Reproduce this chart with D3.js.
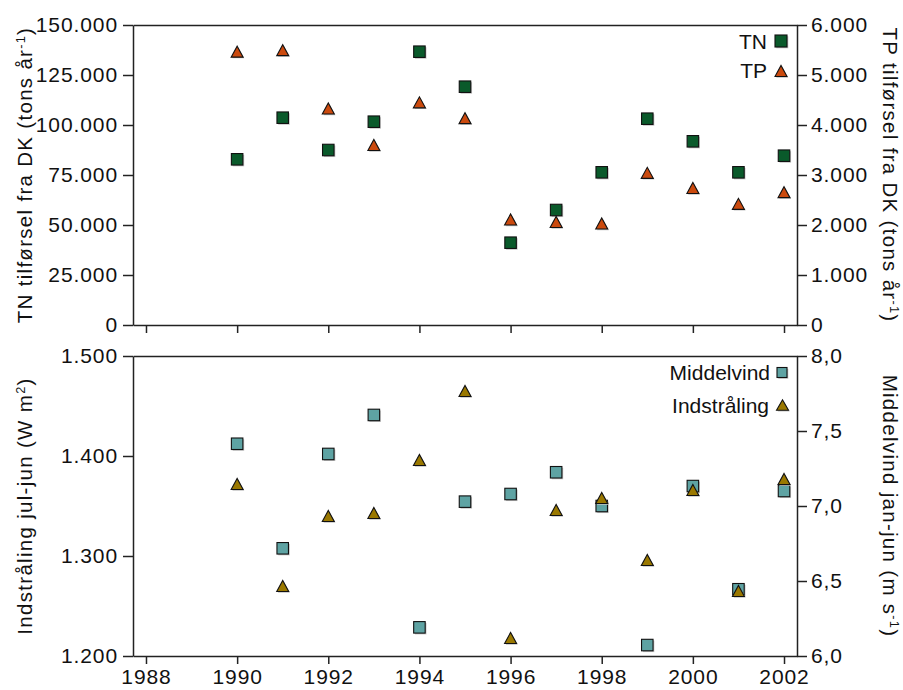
<!DOCTYPE html>
<html><head><meta charset="utf-8">
<script src="https://cdn.jsdelivr.net/npm/d3@7"></script>
<style>
body{margin:0;background:#fff}
svg{display:block}
text{font-family:"Liberation Sans",Arial,Helvetica,sans-serif;fill:#111}
</style>
</head><body><svg id="c" width="903" height="690"></svg>
<script>
// ---- data ----
const years       = [1990,1991,1992,1993,1994,1995,1996,1997,1998,1999,2000,2001,2002];
const tn          = [82850,103650,87500,101650,136650,119150,41150,57500,76350,103150,91850,76350,84650];
const tp          = [5467,5497,4330,3600,4453,4137,2110,2060,2030,3043,2740,2423,2657];
const middelvind  = [7.415,6.718,7.347,7.607,6.191,7.029,7.08,7.225,7.0,6.073,7.133,6.445,7.1];
const indstraling = [1372,1270,1340,1343,1396,1465,1218,1346,1358,1296,1366,1265,1377];
const xTicks      = [1988,1990,1992,1994,1996,1998,2000,2002];
const tnTicks     = [0,25000,50000,75000,100000,125000,150000];
const tpTicks     = [0,1000,2000,3000,4000,5000,6000];
const indTicks    = [1200,1300,1400,1500];
const windTicks   = [6,6.5,7,7.5,8];
const xDomain     = [1987.715, 2002.285];

// ---- style ----
const C = {tn:"#0a5a2b", tp:"#cb4a0e", wind:"#5ea3a3", ind:"#9a7800", axis:"#222", shadow:"#c4c4c4"};
const FONT_TICK = 21, LS_TICK = 0.9, FONT_TITLE = 20.5, LS_TITLE = 1.3, FONT_LEG = 21;

const loc = d3.formatLocale({decimal:",", thousands:".", grouping:[3], currency:["",""]});
const fInt = loc.format(",.0f"), fDec = loc.format(",.1f");

const svg = d3.select("#c");
const x = d3.scaleLinear().domain(xDomain).range([133, 797]);

const panels = [
  {top:25, bottom:325, yl:d3.scaleLinear().domain([0,150000]), yr:d3.scaleLinear().domain([0,6000]),
   lt:tnTicks, rt:tpTicks, lf:fInt, rf:fInt, labels:false},
  {top:356, bottom:656, yl:d3.scaleLinear().domain([1200,1500]), yr:d3.scaleLinear().domain([6,8]),
   lt:indTicks, rt:windTicks, lf:fInt, rf:fDec, labels:true}
];

function styleAxis(g){
  g.attr("font-size", null).attr("font-family", null).attr("color", C.axis);
  g.selectAll("path,line").attr("stroke-width", 1.5);
  g.selectAll("text").style("font-size", FONT_TICK+"px").style("letter-spacing", LS_TICK+"px").attr("fill","#111");
}

panels.forEach(p => {
  p.yl.range([p.bottom, p.top]); p.yr.range([p.bottom, p.top]);
  svg.append("g").attr("transform",`translate(${x.range()[0]},0)`)
    .call(d3.axisLeft(p.yl).tickValues(p.lt).tickFormat(p.lf).tickSize(10).tickSizeOuter(0).tickPadding(5)).call(styleAxis);
  svg.append("g").attr("transform",`translate(${x.range()[1]},0)`)
    .call(d3.axisRight(p.yr).tickValues(p.rt).tickFormat(p.rf).tickSize(10).tickSizeOuter(0).tickPadding(4)).call(styleAxis);
  svg.append("g").attr("transform",`translate(0,${p.bottom})`)
    .call(d3.axisBottom(x).tickValues(xTicks).tickFormat(p.labels ? d3.format("d") : () => "").tickSize(8).tickSizeOuter(0).tickPadding(5)).call(styleAxis);
  svg.append("g").attr("transform",`translate(0,${p.top})`)
    .call(d3.axisTop(x).tickValues([]).tickSizeOuter(0)).call(styleAxis);
});

// ---- markers ----
const SQ = 11.5, TW = 12, TH = 11;
function tri(cx, cy, w=TW, h=TH){ return `M${cx-w/2},${cy+h/2}L${cx},${cy-h/2}L${cx+w/2},${cy+h/2}Z`; }
function squares(g, xs, ys, fill, s=SQ){
  xs.forEach((xv,i)=>{
    g.append("rect").attr("x",xv-s/2+1.3).attr("y",ys[i]-s/2+1.3).attr("width",s).attr("height",s).attr("fill",C.shadow);
    g.append("rect").attr("x",xv-s/2).attr("y",ys[i]-s/2).attr("width",s).attr("height",s)
      .attr("fill",fill).attr("stroke","#111").attr("stroke-width",1.1);
  });
}
function triangles(g, xs, ys, fill, w=TW, h=TH){
  xs.forEach((xv,i)=>{
    g.append("path").attr("d",tri(xv+1.2,ys[i]+1.2,w,h)).attr("fill",C.shadow);
    g.append("path").attr("d",tri(xv,ys[i],w,h)).attr("fill",fill).attr("stroke","#111").attr("stroke-width",1.1).attr("stroke-linejoin","miter");
  });
}
const xs = years.map(x);
const gm = svg.append("g");
squares(gm, xs, tn.map(panels[0].yl), C.tn);
triangles(gm, xs, tp.map(panels[0].yr), C.tp);
squares(gm, xs, middelvind.map(panels[1].yr), C.wind);
triangles(gm, xs, indstraling.map(panels[1].yl), C.ind);

// ---- legends ----
const gl = svg.append("g");
function legText(t, xe, yb){ gl.append("text").attr("x",xe).attr("y",yb).attr("text-anchor","end").style("font-size",FONT_LEG+"px").text(t); }
legText("TN", 767, 49);   squares(gl, [781], [41], C.tn, 12);
legText("TP", 767, 78);   triangles(gl, [781], [71], C.tp, 12, 11);
legText("Middelvind", 770, 380);  squares(gl, [782], [372.5], C.wind, 10);
legText("Indstråling", 769, 413); triangles(gl, [782.5], [405], C.ind, 12, 10.5);

// ---- axis titles ----
function title(parts, tx, ty, rot){
  const t = svg.append("text").attr("transform",`translate(${tx},${ty}) rotate(${rot})`)
    .attr("text-anchor","middle").style("font-size",FONT_TITLE+"px").style("letter-spacing",LS_TITLE+"px");
  parts.forEach(([s,sup])=>{
    const ts = t.append("tspan").text(s);
    if(sup) ts.attr("baseline-shift","super").style("font-size",(FONT_TITLE*0.62)+"px");
  });
}
const midTop = (panels[0].top+panels[0].bottom)/2, midBot = (panels[1].top+panels[1].bottom)/2;
title([["TN tilførsel fra DK (tons år"],["-1",true],[")"]], 32, midTop, -90);
title([["Indstråling jul-jun (W m"],["2",true],[")"]], 32, midBot, -90);
title([["TP tilførsel fra DK (tons år"],["-1",true],[")"]], 883, midTop, 90);
title([["Middelvind jan-jun (m s"],["-1",true],[")"]], 883, midBot, 90);
</script>
</body></html>
